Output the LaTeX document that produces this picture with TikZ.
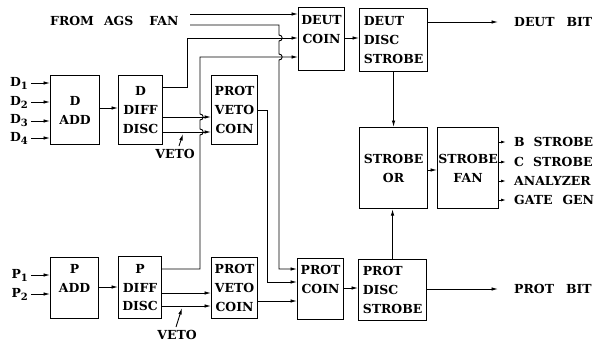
\documentclass[tikz,border=0pt]{standalone}
\usepackage{fontspec}
\setmainfont{DejaVu Serif}
\usetikzlibrary{positioning,arrows.meta}
\newcommand{\sbs}[1]{\raisebox{-3bp}{\fontsize{10}{10}\selectfont#1}}

\begin{document}
\begin{tikzpicture}[x=1bp,y=-1bp,>={Latex[length=6.5bp,width=3.5bp]},
  every node/.style={font=\bfseries\fontsize{12.5}{19}\selectfont},
  blk/.style={draw,line width=1.1bp,anchor=north west,inner sep=0pt,align=center},
  wire/.style={line width=0.9bp},
  hop/.style={out=0,in=0,looseness=1.8}]
  \useasboundingbox (0,0) rectangle (595,344);

  \node[blk,minimum width=49bp,minimum height=69bp] (dadd) at (50,75) {D\\ADD};
  \node[blk,minimum width=44bp,minimum height=69bp] (ddiff) at (118,75) {D\\DIFF\\DISC};
  \node[blk,minimum width=46bp,minimum height=69bp] (dveto) at (211,75) {PROT\\VETO\\COIN};
  \node[blk,minimum width=46bp,minimum height=63bp] (deutcoin) at (298,7) {DEUT\\COIN\\~};
  \node[blk,minimum width=68bp,minimum height=63bp,align=left] (deutdisc) at (359,8) {DEUT\\DISC\\STROBE};
  \node[blk,minimum width=68bp,minimum height=81bp] (strobeor) at (359,127) {STROBE\\OR};
  \node[blk,minimum width=61bp,minimum height=81bp] (strobefan) at (437,127) {STROBE\\FAN};
  \node[blk,minimum width=48bp,minimum height=61bp] (padd) at (50,257) {P\\ADD\\~};
  \node[blk,minimum width=43bp,minimum height=62bp] (pdiff) at (118,256) {P\\DIFF\\DISC};
  \node[blk,minimum width=46bp,minimum height=61bp] (pveto) at (211,257) {PROT\\VETO\\COIN};
  \node[blk,minimum width=46bp,minimum height=61bp] (protcoin) at (297,258) {PROT\\COIN\\~};
  \node[blk,minimum width=68bp,minimum height=61bp,align=left] (protdisc) at (358,259) {PROT\\DISC\\STROBE};

  \foreach \i/\y in {1/83,2/102,3/121,4/138}{
    \coordinate (din\i) at (31,\y);
    \draw[wire,->] (din\i) -- (din\i -| dadd.west);
    \node[left=3bp of din\i,inner sep=0pt] (dlab\i) {D\sbs{\i}};
  }
  \foreach \i/\y in {1/275,2/294}{
    \coordinate (pin\i) at (31,\y);
    \draw[wire,->] (pin\i) -- (pin\i -| padd.west);
    \node[left=3bp of pin\i,inner sep=0pt] (plab\i) {P\sbs{\i}};
  }
  \draw[wire,->] (dadd.east |- 0,108) -- (ddiff.west |- 0,108);
  \draw[wire,->] (padd.east |- 0,287) -- (pdiff.west |- 0,287);

  \node[anchor=west,inner sep=0pt] (ags) at (50,21) {FROM\hspace{10bp}AGS\hspace{16bp}FAN};
  \coordinate (ags1) at (190,14);
  \coordinate (ags2) at (190,25);
  \draw[wire,->] (ags1) -- (ags1 -| deutcoin.west);
  \draw[wire,->] (ags2) -- (279,25) -- (279,35) to[hop] (279,41) -- (279,54) to[hop] (279,60)
    -- (279,269) -- (protcoin.west |- 0,269);

  \draw[wire,->] (ddiff.east |- 0,87) -- (187,87) -- (187,38) -- (deutcoin.west |- 0,38);
  \draw[wire,->] (ddiff.east |- 0,117) -- (dveto.west |- 0,117);
  \draw[wire,->] (ddiff.east |- 0,132) -- (dveto.west |- 0,132);
  \draw[wire,->] (pdiff.east |- 0,269) -- (200,269) -- (200,135) to[hop] (200,129) -- (200,120)
    to[hop] (200,114) -- (200,57) -- (deutcoin.west |- 0,57);
  \draw[wire,->] (pdiff.east |- 0,293) -- (pveto.west |- 0,293);
  \draw[wire,->] (pdiff.east |- 0,306) -- (pveto.west |- 0,306);
  \draw[wire,->] (dveto.east |- 0,110) -- (267,110) -- (267,282) -- (protcoin.west |- 0,282);
  \draw[wire,->] (pveto.east |- 0,301) -- (protcoin.west |- 0,301);

  \node[inner sep=0pt] (vetotop) at (175,154) {VETO};
  \coordinate (vetotopin) at (183,134);
  \draw[wire,->] (179,146) -- (vetotopin);
  \node[inner sep=0pt] (vetobot) at (177,335) {VETO};
  \coordinate (vetobotin) at (182,308);
  \draw[wire,->] (176,327) -- (vetobotin);

  \draw[wire,->] (deutcoin.east |- 0,38) -- (deutdisc.west |- 0,38);
  \draw[wire,->] (protcoin.east |- 0,288) -- (protdisc.west |- 0,288);
  \draw[wire,->] (deutdisc.south) -- (strobeor.north);
  \draw[wire,->] (protdisc.north) -- (protdisc.north |- strobeor.south);
  \draw[wire,->] (strobeor.east |- 0,170) -- (strobefan.west |- 0,170);

  \coordinate (deutend) at (498,22);
  \coordinate (protend) at (498,289);
  \draw[wire,->] (deutdisc.east |- deutend) -- (deutend);
  \draw[wire,->] (protdisc.east |- protend) -- (protend);
  \node[right=16bp of deutend,inner sep=0pt] (deutbit) {DEUT\hspace{12bp}BIT};
  \node[right=16bp of protend,inner sep=0pt] (protbit) {PROT\hspace{12bp}BIT};

  \foreach \y/\t [count=\i] in {142/{B\hspace{9bp}STROBE},162/{C\hspace{9bp}STROBE},181/ANALYZER,200/{GATE\hspace{10bp}GEN}}{
    \coordinate (fan\i) at (506,\y);
    \draw[wire,-{Latex[length=5bp,width=3bp]}] (strobefan.east |- fan\i) -- (fan\i);
    \node[right=8bp of fan\i,inner sep=0pt] (fanlab\i) {\t};
  }
\end{tikzpicture}
\end{document}
